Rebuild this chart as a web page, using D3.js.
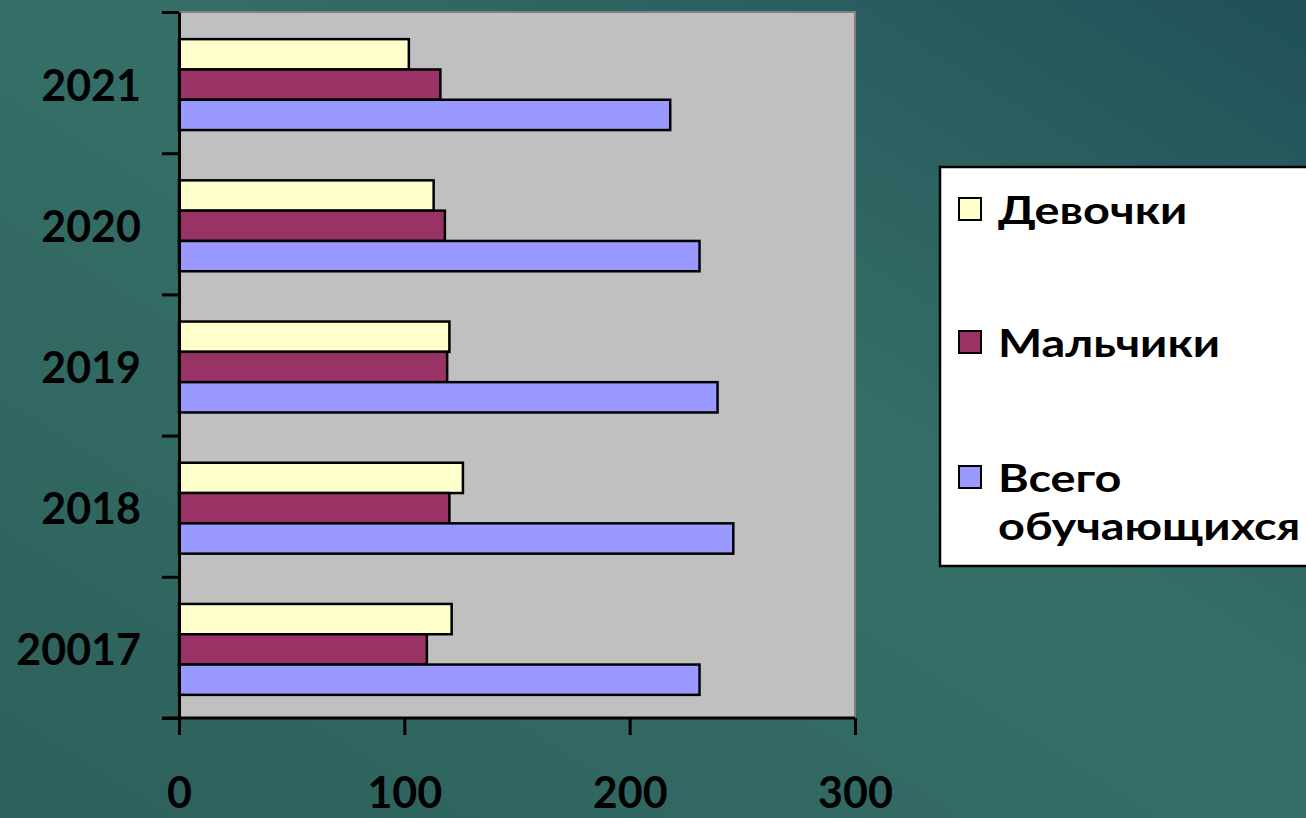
<!DOCTYPE html>
<html>
<head>
<meta charset="utf-8">
<script src="https://cdn.jsdelivr.net/npm/d3@7"></script>
<style>
  html, body { margin: 0; padding: 0; overflow: hidden; }
  svg { display: block; }
  text { font-family: Lato, "Open Sans", sans-serif; font-weight: bold; fill: #000; }
</style>
</head>
<body>
<div id="chart"></div>
<script>
const years = ["20017", "2018", "2019", "2020", "2021"];
const seriesNames = ["Девочки", "Мальчики", "Всего обучающихся"];
const girls = [121, 126, 120, 113, 102];
const boys = [110, 120, 119, 118, 116];
const total = [231, 246, 239, 231, 218];
const seriesColors = ["#FFFFCC", "#993366", "#9999FF"];
const xTicks = [0, 100, 200, 300];

const width = 1306, height = 818;
const plotLeft = 179, plotRight = 855, plotTop = 12, plotBottom = 718;

const svg = d3.select("#chart").append("svg")
    .attr("width", width)
    .attr("height", height);

// background
const defs = svg.append("defs");
const grad = defs.append("linearGradient")
    .attr("id", "bg")
    .attr("x1", "0").attr("y1", "1").attr("x2", "1").attr("y2", "0");
grad.append("stop").attr("offset", "0%").attr("stop-color", "#2d605b");
grad.append("stop").attr("offset", "55%").attr("stop-color", "#357068");
grad.append("stop").attr("offset", "100%").attr("stop-color", "#215058");
svg.append("rect").attr("width", width).attr("height", height).attr("fill", "url(#bg)");

const x = d3.scaleLinear().domain([0, 300]).range([plotLeft, plotRight]);
const y = d3.scaleBand().domain(years.slice().reverse()).range([plotTop, plotBottom]);
const inner = d3.scaleBand().domain(d3.range(3)).range([0, y.bandwidth()])
    .paddingInner(0).paddingOuter(0.83);

// plot area
svg.append("rect")
    .attr("x", plotLeft).attr("y", plotTop)
    .attr("width", plotRight - plotLeft).attr("height", plotBottom - plotTop)
    .attr("fill", "#C0C0C0")
    .attr("stroke", "#808080").attr("stroke-width", 2);

const data = [girls, boys, total];
const rows = years.map((yr, i) => ({ yr, vals: data.map(s => s[i]) }));

const groups = svg.selectAll("g.year").data(rows).join("g")
    .attr("class", "year")
    .attr("transform", d => `translate(0,${y(d.yr) + 2})`);

groups.selectAll("rect").data(d => d.vals).join("rect")
    .attr("x", x(0))
    .attr("y", (d, j) => inner(j))
    .attr("width", d => x(d) - x(0))
    .attr("height", inner.bandwidth())
    .attr("fill", (d, j) => seriesColors[j])
    .attr("stroke", "#000")
    .attr("stroke-width", 2.5);

// y axis: ticks on category boundaries
const yBounds = d3.scaleLinear().domain([0, years.length]).range([plotBottom, plotTop]);
svg.append("g")
    .attr("transform", `translate(${plotLeft},0)`)
    .call(d3.axisLeft(yBounds).ticks(years.length).tickSize(17).tickFormat("").tickSizeOuter(0))
    .call(g => g.selectAll("line, path").attr("stroke", "#000").attr("stroke-width", 3));

svg.append("g").selectAll("text").data(years).join("text")
    .attr("x", 141)
    .attr("y", d => y(d) + y.bandwidth() / 2 + 18)
    .attr("text-anchor", "end")
    .attr("font-size", 43)
    .text(d => d);

// x axis
svg.append("g")
    .attr("transform", `translate(0,${plotBottom})`)
    .call(d3.axisBottom(x).tickValues(xTicks).tickSize(17).tickSizeOuter(0).tickPadding(42))
    .call(g => g.selectAll("line, path").attr("stroke", "#000").attr("stroke-width", 3))
    .call(g => g.select(".domain").attr("d", `M${plotLeft - 17},0H${plotRight}`))
    .call(g => g.selectAll("text")
        .attr("font-size", 43)
        .attr("font-family", "Lato, 'Open Sans', sans-serif")
        .attr("font-weight", "bold")
        .attr("fill", "#000"));

// legend
const legend = svg.append("g");
legend.append("rect")
    .attr("x", 940).attr("y", 167)
    .attr("width", 400).attr("height", 399)
    .attr("fill", "#fff").attr("stroke", "#000").attr("stroke-width", 2.5);

const legendRows = [
  { lines: ["Девочки"], y: 224 },
  { lines: ["Мальчики"], y: 357 },
  { lines: ["Всего", "обучающихся"], y: 492 }
];
legendRows.forEach((r, i) => {
  legend.append("rect")
      .attr("x", 959).attr("y", r.y - 26)
      .attr("width", 22).attr("height", 22)
      .attr("fill", seriesColors[i])
      .attr("stroke", "#000").attr("stroke-width", 2);
  const t = legend.append("text")
      .attr("transform", `translate(998,${r.y}) scale(1.2,1)`)
      .attr("font-size", 39);
  r.lines.forEach((ln, k) => {
    t.append("tspan").attr("x", 0).attr("dy", k === 0 ? 0 : 48).text(ln);
  });
});
</script>
</body>
</html>
